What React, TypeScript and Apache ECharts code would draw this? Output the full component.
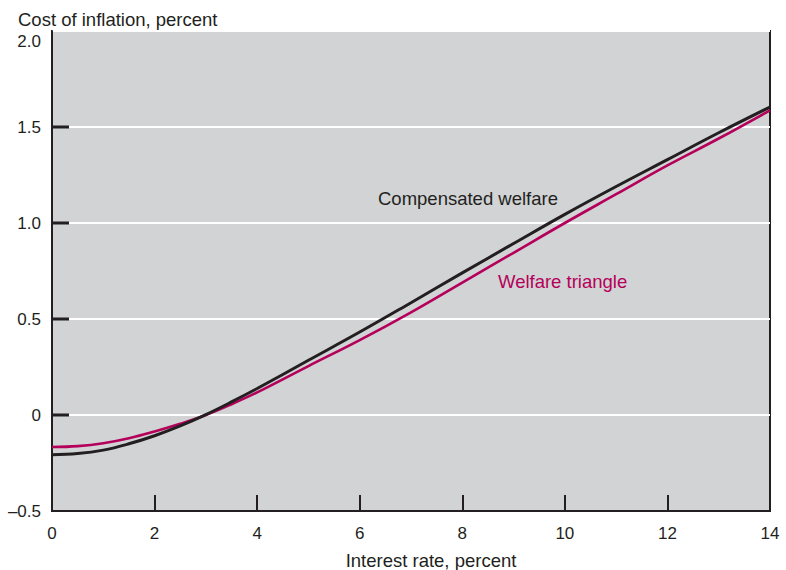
import React, { useEffect, useRef } from "react";
import * as echarts from "echarts";

const rates = [0, 0.5, 1, 1.5, 2, 2.5, 3, 3.5, 4, 5, 6, 7, 8, 9, 10, 11, 12, 13, 14];
const compensatedWelfare = [-0.207, -0.201, -0.183, -0.15, -0.108, -0.057, 0.002, 0.068, 0.138, 0.285, 0.432, 0.585, 0.74, 0.893, 1.045, 1.19, 1.33, 1.47, 1.604];
const welfareTriangle = [-0.167, -0.162, -0.147, -0.121, -0.086, -0.046, 0.0, 0.056, 0.118, 0.255, 0.39, 0.535, 0.69, 0.845, 1.0, 1.15, 1.3, 1.44, 1.587];
const xTicks = [0, 2, 4, 6, 8, 10, 12, 14];
const yTicks = [-0.5, 0, 0.5, 1.0, 1.5, 2.0];

const DARK = "#231f20";
const MAGENTA = "#b5005b";
const FONT = "'Liberation Sans', Arial, Helvetica, sans-serif";

export default function App() {
  const ref = useRef<HTMLDivElement>(null);
  useEffect(() => {
    if (!ref.current) return;
    const chart = echarts.init(ref.current, null, { renderer: "svg" });
    const fmtY = (v: number) => {
      if (v === 0) return "0";
      if (v < 0) return "\u2013" + Math.abs(v).toFixed(1);
      return v.toFixed(1);
    };
    const xMin = xTicks[0];
    const xMax = xTicks[xTicks.length - 1];
    const yMin = yTicks[0];
    const yMax = yTicks[yTicks.length - 1];
    const innerYTicks = yTicks.filter((v) => v !== yMin && v !== yMax);
    chart.setOption({
      animation: false,
      backgroundColor: "#ffffff",
      textStyle: { fontFamily: FONT },
      grid: {
        left: 52,
        top: 31,
        width: 718,
        height: 480,
        outerBoundsMode: "none",
        containLabel: false,
        show: true,
        backgroundColor: "#d1d3d4",
        borderColor: DARK,
        borderWidth: 2,
      },
      xAxis: {
        type: "value",
        min: xMin,
        max: xMax,
        interval: 2,
        z: 3,
        axisLine: { show: true, onZero: false, lineStyle: { color: DARK, width: 2 } },
        axisTick: { show: true, inside: true, length: 16, lineStyle: { color: DARK, width: 2 } },
        axisLabel: { color: DARK, fontSize: 17, margin: 14, fontFamily: FONT },
        splitLine: { show: false },
      },
      yAxis: {
        type: "value",
        min: yMin,
        max: yMax,
        interval: 0.5,
        z: 3,
        axisLine: { show: true, onZero: false, lineStyle: { color: DARK, width: 2 } },
        axisTick: { show: false },
        axisLabel: {
          color: DARK,
          fontSize: 17,
          margin: 11,
          fontFamily: FONT,
          showMaxLabel: false,
          formatter: (v: number) => fmtY(v),
        },
        splitLine: { show: true, lineStyle: { color: "#ffffff", width: 2 } },
      },
      graphic: [
        {
          type: "text",
          x: 18,
          y: 19,
          style: { text: "Cost of inflation, percent", fill: DARK, font: `18.5px ${FONT}`, textVerticalAlign: "middle" },
        },
        {
          type: "text",
          x: 41,
          y: 41,
          style: { text: fmtY(yMax), fill: DARK, font: `17px ${FONT}`, textAlign: "right", textVerticalAlign: "middle" },
        },
        {
          type: "text",
          x: 431,
          y: 560,
          style: { text: "Interest rate, percent", fill: DARK, font: `18.5px ${FONT}`, textAlign: "center", textVerticalAlign: "middle" },
        },
        {
          type: "text",
          x: 378,
          y: 198,
          style: { text: "Compensated welfare", fill: DARK, font: `18.5px ${FONT}`, textVerticalAlign: "middle" },
        },
        {
          type: "text",
          x: 498,
          y: 281,
          style: { text: "Welfare triangle", fill: MAGENTA, font: `18.5px ${FONT}`, textVerticalAlign: "middle" },
        },
      ],
      series: [
        {
          name: "Welfare triangle",
          type: "line",
          smooth: 0.4,
          showSymbol: false,
          data: rates.map((r, i) => [r, welfareTriangle[i]]),
          lineStyle: { color: MAGENTA, width: 2.6 },
          z: 3,
        },
        {
          name: "Compensated welfare",
          type: "line",
          smooth: 0.4,
          showSymbol: false,
          data: rates.map((r, i) => [r, compensatedWelfare[i]]),
          lineStyle: { color: DARK, width: 3 },
          z: 4,
        },
        {
          name: "y ticks",
          type: "custom",
          silent: true,
          clip: false,
          z: 10,
          data: innerYTicks.map((v) => [xMin, v]),
          renderItem: (params: any, api: any) => {
            const p = api.coord([api.value(0), api.value(1)]);
            return {
              type: "rect",
              shape: { x: p[0], y: p[1] - 1.5, width: 17, height: 3 },
              style: { fill: DARK },
            };
          },
        },
      ],
    });
    return () => chart.dispose();
  }, []);
  return <div ref={ref} style={{ width: 786, height: 570, position: "absolute", left: 0, top: 0 }} />;
}
